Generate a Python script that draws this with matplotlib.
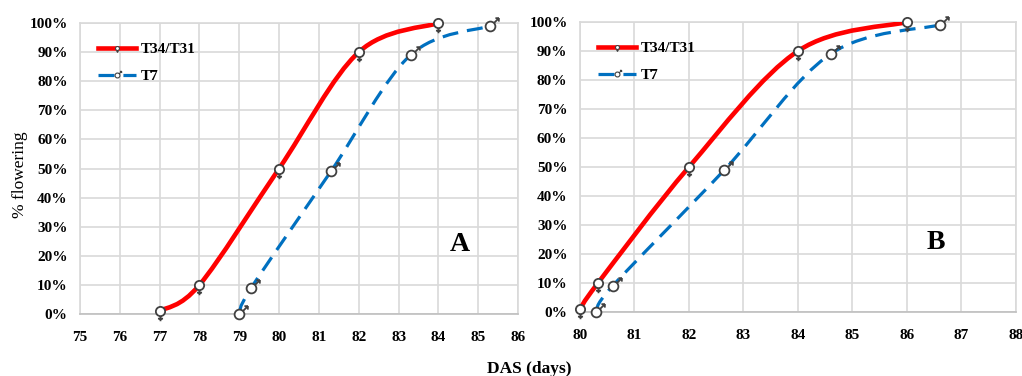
import numpy as np
import matplotlib
matplotlib.use("Agg")
import matplotlib.pyplot as plt
from matplotlib.path import Path
from matplotlib.patches import PathPatch
from matplotlib.lines import Line2D
from matplotlib.ticker import FuncFormatter

# data
a_red_x = [77, 78, 80, 82, 84]
a_red_y = [1, 10, 50, 90, 100]
a_blue_x = [79, 79.3, 81.3, 83.3, 85.3]
a_blue_y = [0, 9, 49, 89, 99]

b_red_x = [80, 80.33, 82, 84, 86]
b_red_y = [1, 10, 50, 90, 100]
b_blue_x = [80.3, 80.6, 82.65, 84.6, 86.6]
b_blue_y = [0, 9, 49, 89, 99]

a_xticks = list(range(75, 87))
b_xticks = list(range(80, 89))
yticks = list(range(0, 101, 10))

RED = "#ff0000"
BLUE = "#0070c0"
MK = "#404040"
GRID = "#d9d9d9"
DASH = (0, (5, 2.8))

plt.rcParams["font.family"] = ["Liberation Serif", "DejaVu Serif"]


def female_marker():
    circ = Path.unit_circle()
    verts = list(circ.vertices)
    codes = list(circ.codes)
    verts += [(0, -1), (0, -2.1), (-0.55, -1.55), (0.55, -1.55)]
    codes += [Path.MOVETO, Path.LINETO, Path.MOVETO, Path.LINETO]
    return Path(verts, codes)


def male_marker():
    circ = Path.unit_circle()
    verts = list(circ.vertices)
    codes = list(circ.codes)
    verts += [(0.707, 0.707), (1.7, 1.7), (1.7, 1.7), (1.0, 1.7), (1.7, 1.7), (1.7, 1.0)]
    codes += [Path.MOVETO, Path.LINETO, Path.MOVETO, Path.LINETO, Path.MOVETO, Path.LINETO]
    return Path(verts, codes)


def smooth_path(xs, ys):
    # excel-like smoothed line: catmull-rom as cubic bezier
    p = np.column_stack([xs, ys]).astype(float)
    ext = np.vstack([p[0], p, p[-1]])
    verts = [p[0]]
    codes = [Path.MOVETO]
    for i in range(len(p) - 1):
        p0, p1, p2, p3 = ext[i], ext[i + 1], ext[i + 2], ext[i + 3]
        c1 = p1 + (p2 - p0) / 6.0
        c2 = p2 - (p3 - p1) / 6.0
        verts += [c1, c2, p2]
        codes += [Path.CURVE4] * 3
    return Path(verts, codes)


FEM = female_marker()
MAL = male_marker()


def draw_panel(ax, rx, ry, bx, by, xticks, letter, letter_xy):
    ax.add_patch(PathPatch(smooth_path(rx, ry), fill=False, edgecolor=RED,
                           lw=3.3, capstyle="round", zorder=3))
    ax.add_patch(PathPatch(smooth_path(bx, by), fill=False, edgecolor=BLUE,
                           lw=2.3, linestyle=DASH, zorder=3))
    ax.plot(rx, ry, ls="none", marker=FEM, ms=14, mfc="white", mec=MK,
            mew=1.3, clip_on=False, zorder=4)
    ax.plot(bx, by, ls="none", marker=MAL, ms=12, mfc="white", mec=MK,
            mew=1.3, clip_on=False, zorder=4)

    ax.set_xlim(xticks[0], xticks[-1])
    ax.set_ylim(0, 100)
    ax.set_xticks(xticks)
    ax.set_yticks(yticks)
    ax.yaxis.set_major_formatter(FuncFormatter(lambda v, _: "%d%%" % v))
    ax.grid(True, color=GRID, lw=1.2)
    ax.set_axisbelow(True)
    ax.tick_params(length=0, labelsize=11)
    ax.tick_params(axis="x", pad=12)
    ax.tick_params(axis="y", pad=9)
    for lab in ax.get_xticklabels() + ax.get_yticklabels():
        lab.set_fontweight("bold")
    for s in ax.spines.values():
        s.set_color(GRID)
        s.set_linewidth(1.2)
    ax.spines["bottom"].set_color("#bfbfbf")

    handles = [
        Line2D([], [], color=RED, lw=3.3, marker=FEM, ms=6, mfc="white",
               mec=MK, mew=0.8),
        Line2D([], [], color=BLUE, lw=2.3, ls=DASH, marker=MAL, ms=6,
               mfc="white", mec=MK, mew=0.8),
    ]
    ax.legend(handles, ["T34/T31", "T7"], loc="upper left",
              bbox_to_anchor=(0.01, 0.98), frameon=False,
              handlelength=2.5, handletextpad=0.3, labelspacing=0.85,
              prop={"weight": "bold", "size": 11})

    ax.text(letter_xy[0], letter_xy[1], letter, transform=ax.transAxes,
            fontsize=20, fontweight="bold", ha="center", va="center")


fig = plt.figure(figsize=(10.22, 3.76), dpi=100)
ax1 = fig.add_axes([0.0783, 0.1649, 0.4286, 0.7739])
ax2 = fig.add_axes([0.5675, 0.1702, 0.4266, 0.7713])

draw_panel(ax1, a_red_x, a_red_y, a_blue_x, a_blue_y, a_xticks, "A", (0.868, 0.24))
draw_panel(ax2, b_red_x, b_red_y, b_blue_x, b_blue_y, b_xticks, "B", (0.815, 0.24))

fig.text(0.02, 0.535, "% flowering", rotation=90, ha="center", va="center",
         fontsize=12.5)
fig.text(0.518, 0.018, "DAS (days)", ha="center", va="center",
         fontsize=12.5, fontweight="bold")

fig.savefig("out.png", dpi=100)
